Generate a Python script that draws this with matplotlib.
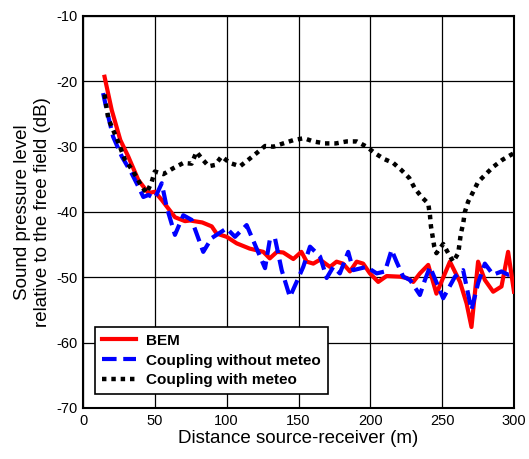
import matplotlib
matplotlib.use("Agg")
import matplotlib.pyplot as plt

plt.rcParams['font.family'] = ['Liberation Sans', 'DejaVu Sans']
plt.rcParams['axes.unicode_minus'] = False

bem_x = [15, 20, 26, 31.5, 38.5, 45.5, 50, 55, 64, 71, 74.5, 83, 89.6, 93, 100, 107, 116, 125.5, 130, 135,
         139.4, 146.4, 152, 155.7, 160.3, 165, 171.9, 176.5, 181, 185.8, 190.5, 195, 199.7, 205.5, 211.3,
         220.6, 225.3, 229.9, 234.5, 240.3, 246, 255.4, 262.4, 267, 270.4, 275, 279.7, 285.5, 291.3, 295.9, 300]
bem_y = [-19.3, -24.4, -29, -31.5, -35.1, -37.1, -36.9, -38.2, -40.8, -41.4, -41.3, -41.6, -42.2, -43.3, -43.8,
         -44.8, -45.6, -46.1, -47.1, -46.1, -46.2, -47.2, -46.1, -47.6, -47.9, -47.3, -48.4, -47.6, -47.9, -49.1,
         -47.6, -47.9, -49.4, -50.7, -49.8, -49.9, -50.1, -50.7, -49.4, -48.1, -52.5, -47.6, -50.7, -54, -57.6,
         -47.6, -50.4, -52.2, -51.4, -46.1, -52.2]

nomet_x = [14, 16.5, 21, 27, 33.9, 38.5, 42, 45.5, 50, 54.8, 58.2, 64, 69.8, 75.6, 83.7, 89.5, 100, 105.8, 113.9,
           123.2, 126.7, 130, 133.6, 138.3, 144, 148.7, 153.3, 158, 165, 169.6, 174.2, 178.8, 184.6, 188.1,
           197.4, 204.4, 210.2, 214.8, 218.2, 222.9, 227.6, 234.5, 238, 241.5, 250.7, 258.9, 264.6, 270.4, 275,
           279.7, 285.5, 291.3, 295.9, 300]
nomet_y = [-21.8, -24.4, -28.5, -31.5, -34.1, -36.1, -37.7, -37.4, -37.9, -35.6, -39.2, -43.5, -40.5, -41.2,
           -46.1, -44, -42.5, -43.8, -42, -46.8, -48.6, -44.3, -44, -48.9, -53, -50.7, -48.4, -45.3, -46.8, -50.1,
           -48.4, -49.4, -46.1, -48.9, -48.4, -49.4, -49.1, -45.8, -47.6, -49.9, -50.4, -52.7, -50.4, -48.4,
           -53.2, -49.9, -48.9, -55, -50.9, -47.9, -49.6, -49.1, -49.6, -49.4]

met_x = [15, 17.6, 23.4, 29.2, 35, 40.8, 44.3, 47.8, 50, 56, 62.8, 69.8, 75.6, 79, 82.6, 87.5, 91.9, 96.5, 102.3,
         109.3, 115.7, 121.3, 126.7, 132.5, 139.4, 146.4, 153.8, 160.3, 168.4, 176, 183.5, 190.5, 197.4, 203.2,
         209.7, 216, 221.7, 227.1, 231, 235.7, 240.3, 241.5, 242.2, 243.4, 244.5, 246, 250.7, 254.2, 257.7,
         261.2, 263, 264.6, 265.8, 268.1, 271.6, 275, 280.9, 285.5, 292, 298.3, 300]
met_y = [-22, -25.7, -28.7, -32, -33.8, -36.1, -37.1, -35.4, -33.8, -34.2, -33.3, -32.5, -32.6, -30.8, -31.8, -33,
         -32.8, -31.5, -32.5, -33, -31.9, -30.9, -29.9, -30, -29.5, -29, -28.7, -29.2, -29.5, -29.5, -29.2, -29.2,
         -30, -31, -31.9, -32.5, -33.6, -34.8, -36.4, -37.7, -38.7, -40.5, -42.2, -43.8, -45.3, -46.3, -44.9,
         -46.3, -47.6, -46.3, -43.3, -41.8, -40, -38.4, -36.9, -35.4, -34.1, -33.1, -32, -31.2, -31]

xticks = [0, 50, 100, 150, 200, 250, 300]
yticks = [-70, -60, -50, -40, -30, -20, -10]

fig = plt.figure(figsize=(5.29, 4.59), dpi=100)
W, H = 529, 459
ax = fig.add_axes([83 / W, 1 - 408 / H, (514 - 83) / W, (408 - 16) / H])

ax.plot(bem_x, bem_y, color='#ff0000', lw=3.0, label='BEM', solid_joinstyle='round', zorder=3)
ax.plot(nomet_x, nomet_y, color='#0000ff', lw=3.0, linestyle=(0, (3.5, 1.6)), label='Coupling without meteo', zorder=4)
ax.plot(met_x, met_y, color='black', lw=3.2, linestyle=(0, (1, 1.1)), label='Coupling with meteo', zorder=5)

ax.set_xlim(0, 300)
ax.set_ylim(-70, -10)
ax.set_xticks(xticks)
ax.set_yticks(yticks)
ax.tick_params(labelsize=10.5, length=0, pad=4)
ax.grid(True, color='black', lw=0.9)
ax.set_axisbelow(True)
for s in ax.spines.values():
    s.set_linewidth(1.5)

ax.set_xlabel('Distance source-receiver (m)', fontsize=13.5, labelpad=2)
ax.set_ylabel('Sound pressure level\nrelative to the free field (dB)', fontsize=13.5, labelpad=4)

leg = ax.legend(loc='lower left', bbox_to_anchor=(0.028, 0.035), prop={'weight': 'bold', 'size': 11},
                frameon=True, fancybox=False, framealpha=1, edgecolor='black', borderaxespad=0,
                handlelength=2.2, borderpad=0.45, labelspacing=0.38, handletextpad=0.7)
leg.get_frame().set_linewidth(1.2)

fig.savefig('out.png', dpi=100)
